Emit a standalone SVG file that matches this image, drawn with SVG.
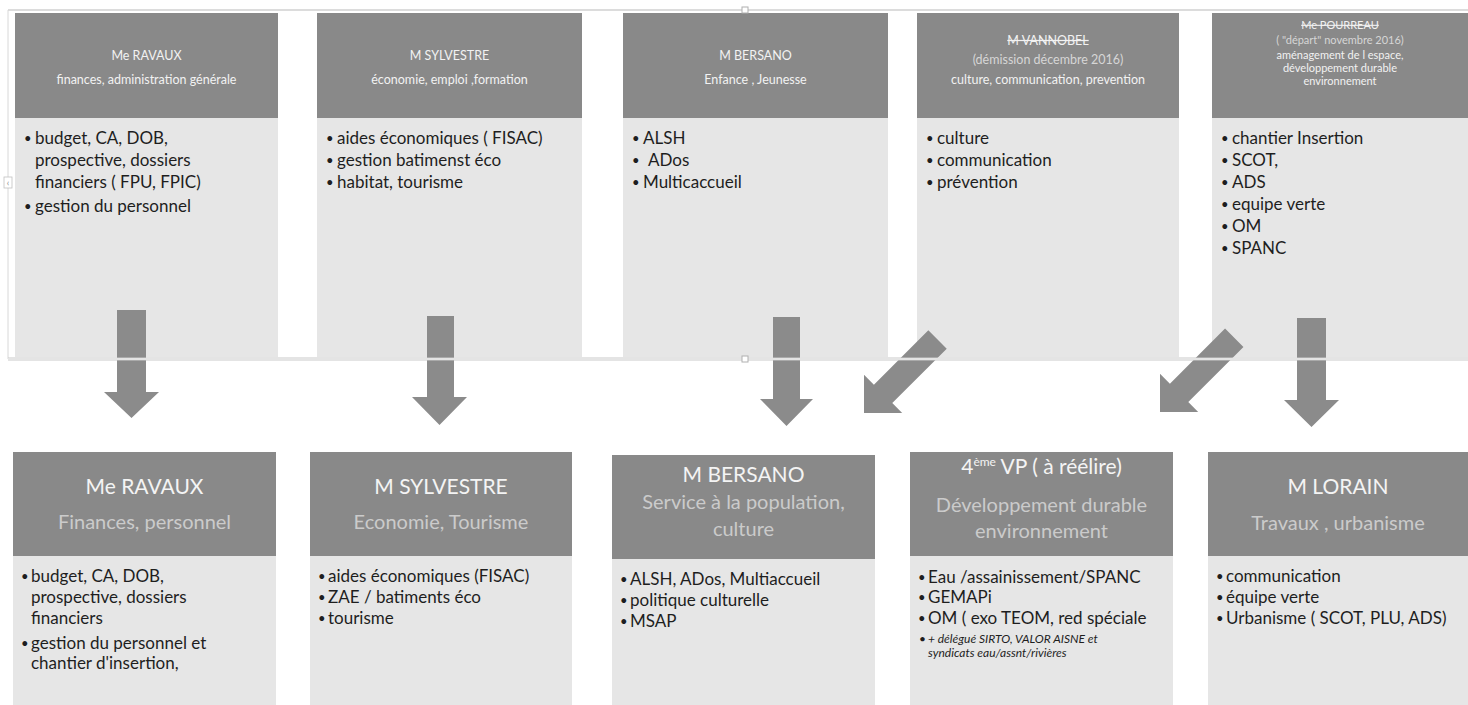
<svg xmlns="http://www.w3.org/2000/svg" width="1468" height="705" viewBox="0 0 1468 705">
<style>
.hd{fill:#898989}
.bd{fill:#e6e6e6}
.th{font-family:Lato,"Liberation Sans",sans-serif;font-size:12.5px;fill:#f2f2f2;text-anchor:middle}
.th5{font-family:Lato,"Liberation Sans",sans-serif;font-size:11px;fill:#f2f2f2;text-anchor:middle}
.st{text-decoration:line-through}
.dim{fill:#d6d6d6}
.tb{font-family:Lato,"Liberation Sans",sans-serif;font-size:17px;fill:#1e1e1e}
.bu{font-family:Lato,"Liberation Sans",sans-serif;font-size:13px;fill:#1e1e1e}
.bt{font-family:Lato,"Liberation Sans",sans-serif;font-size:21px;fill:#f4f4f4;text-anchor:middle}
.bs{font-family:Lato,"Liberation Sans",sans-serif;font-size:20px;fill:#cbcbcb;text-anchor:middle}
.it{font-family:Lato,"Liberation Sans",sans-serif;font-size:12px;font-style:italic;fill:#1e1e1e}
.ar{fill:#8b8b8b}
.fr{stroke:#c9c9c9;stroke-width:3;fill:none}
.frw{stroke:#ffffff;stroke-width:1.2;fill:none}
</style>

<!-- top row -->
<g id="t1">
<rect class="hd" x="15" y="13" width="263" height="105"/>
<rect class="bd" x="15" y="118" width="263" height="239"/>
<text class="th" x="146.5" y="59.5">Me RAVAUX</text>
<text class="th" x="146.5" y="83.5">finances, administration générale</text>
<text class="bu" x="24" y="143">•</text><text class="tb" x="35" y="144">budget, CA, DOB,</text>
<text class="tb" x="35" y="166">prospective, dossiers</text>
<text class="tb" x="35" y="188">financiers ( FPU, FPIC)</text>
<text class="bu" x="24" y="211">•</text><text class="tb" x="35" y="212">gestion du personnel</text>
</g>
<g id="t2">
<rect class="hd" x="317" y="13" width="265" height="105"/>
<rect class="bd" x="317" y="118" width="265" height="239"/>
<text class="th" x="449.5" y="59.5">M SYLVESTRE</text>
<text class="th" x="449.5" y="83.5">économie, emploi ,formation</text>
<text class="bu" x="326" y="143">•</text><text class="tb" x="337" y="144">aides économiques ( FISAC)</text>
<text class="bu" x="326" y="165">•</text><text class="tb" x="337" y="166">gestion batimenst éco</text>
<text class="bu" x="326" y="187">•</text><text class="tb" x="337" y="188">habitat, tourisme</text>
</g>
<g id="t3">
<rect class="hd" x="623" y="13" width="265" height="105"/>
<rect class="bd" x="623" y="118" width="265" height="239"/>
<text class="th" x="755.5" y="59.5">M BERSANO</text>
<text class="th" x="755.5" y="83.5">Enfance , Jeunesse</text>
<text class="bu" x="632" y="143">•</text><text class="tb" x="643" y="144">ALSH</text>
<text class="bu" x="632" y="165">•</text><text class="tb" x="648" y="166">ADos</text>
<text class="bu" x="632" y="187">•</text><text class="tb" x="643" y="188">Multicaccueil</text>
</g>
<g id="t4">
<rect class="hd" x="917" y="13" width="262" height="105"/>
<rect class="bd" x="917" y="118" width="262" height="239"/>
<text class="th st" x="1048" y="44.5">M VANNOBEL</text>
<text class="th dim" x="1048" y="63.5">(démission décembre 2016)</text>
<text class="th" x="1048" y="83.5">culture, communication, prevention</text>
<text class="bu" x="926" y="143">•</text><text class="tb" x="937" y="144">culture</text>
<text class="bu" x="926" y="165">•</text><text class="tb" x="937" y="166">communication</text>
<text class="bu" x="926" y="187">•</text><text class="tb" x="937" y="188">prévention</text>
</g>
<g id="t5">
<rect class="hd" x="1212" y="13" width="256" height="105"/>
<rect class="bd" x="1212" y="118" width="256" height="239"/>
<text class="th5 st" x="1340" y="29">Me POURREAU</text>
<text class="th5 dim" x="1340" y="44">( "départ" novembre 2016)</text>
<text class="th5" x="1340" y="59">aménagement de l espace,</text>
<text class="th5" x="1340" y="72">développement durable</text>
<text class="th5" x="1340" y="85">environnement</text>
<text class="bu" x="1221" y="143">•</text><text class="tb" x="1232" y="144">chantier Insertion</text>
<text class="bu" x="1221" y="165">•</text><text class="tb" x="1232" y="166">SCOT,</text>
<text class="bu" x="1221" y="187">•</text><text class="tb" x="1232" y="188">ADS</text>
<text class="bu" x="1221" y="209">•</text><text class="tb" x="1232" y="210">equipe verte</text>
<text class="bu" x="1221" y="231">•</text><text class="tb" x="1232" y="232">OM</text>
<text class="bu" x="1221" y="253">•</text><text class="tb" x="1232" y="254">SPANC</text>
</g>

<!-- connectors -->
<g id="connectors">
<polygon class="ar" points="117,310 146,310 146,392 159,392 131.5,418 104,392 117,392"/>
<polygon class="ar" points="427,316 454,316 454,397 467,397 439.5,425 412,397 427,397"/>
<polygon class="ar" points="773,317 800,317 800,399 813,399 786.5,426 760,399 773,399"/>
<polygon class="ar" points="1297,318 1326,318 1326,400 1339,400 1311.5,427 1284,400 1297,400"/>
<polygon class="ar" transform="translate(864,413) rotate(45)" points="-13,-104 13,-104 13,-27 27,-27 0,0 -27,-27 -13,-27"/>
<polygon class="ar" transform="translate(1160,412) rotate(45)" points="-13,-105 13,-105 13,-27 27,-27 0,0 -27,-27 -13,-27"/>
</g>

<!-- frame of the top region -->
<g id="frame">
<line x1="8" y1="10" x2="1468" y2="10" stroke="#d0d0d0" stroke-width="1.5"/>
<line x1="8" y1="10" x2="8" y2="359" stroke="#d8d8d8" stroke-width="1"/>
<line class="fr" x1="8" y1="359" x2="1468" y2="359"/>
<line class="frw" x1="8" y1="359" x2="1468" y2="359"/>
<rect x="742" y="7" width="6" height="6" fill="#ffffff" stroke="#b0b0b0" stroke-width="1"/>
<rect x="742" y="356" width="6" height="6" fill="#ffffff" stroke="#b0b0b0" stroke-width="1"/>
<rect x="4" y="177" width="8" height="11" fill="#ffffff" stroke="#c0c0c0" stroke-width="0.8"/>
<text x="8" y="186" font-family="Lato,'Liberation Sans',sans-serif" font-size="9" fill="#888" text-anchor="middle">‹</text>
</g>

<!-- bottom row -->
<g id="b1">
<rect class="hd" x="13" y="452" width="263" height="104"/>
<rect class="bd" x="13" y="556" width="263" height="149"/>
<text class="bt" x="144.5" y="494">Me RAVAUX</text>
<text class="bs" x="144.5" y="529">Finances, personnel</text>
<text class="bu" x="21" y="581">•</text><text class="tb" x="31" y="582">budget, CA, DOB,</text>
<text class="tb" x="31" y="603">prospective, dossiers</text>
<text class="tb" x="31" y="624">financiers</text>
<text class="bu" x="21" y="648">•</text><text class="tb" x="31" y="649">gestion du personnel et</text>
<text class="tb" x="31" y="669">chantier d'insertion,</text>
</g>
<g id="b2">
<rect class="hd" x="310" y="452" width="262" height="104"/>
<rect class="bd" x="310" y="556" width="262" height="149"/>
<text class="bt" x="441" y="494">M SYLVESTRE</text>
<text class="bs" x="441" y="529">Economie, Tourisme</text>
<text class="bu" x="318" y="581">•</text><text class="tb" x="328" y="582">aides économiques (FISAC)</text>
<text class="bu" x="318" y="602">•</text><text class="tb" x="328" y="603">ZAE / batiments éco</text>
<text class="bu" x="318" y="623">•</text><text class="tb" x="328" y="624">tourisme</text>
</g>
<g id="b3">
<rect class="hd" x="612" y="455" width="263" height="104"/>
<rect class="bd" x="612" y="559" width="263" height="146"/>
<text class="bt" x="743.5" y="482">M BERSANO</text>
<text class="bs" x="743.5" y="509">Service à la population,</text>
<text class="bs" x="743.5" y="536">culture</text>
<text class="bu" x="620" y="584">•</text><text class="tb" x="630" y="585">ALSH, ADos, Multiaccueil</text>
<text class="bu" x="620" y="605">•</text><text class="tb" x="630" y="606">politique culturelle</text>
<text class="bu" x="620" y="626">•</text><text class="tb" x="630" y="627">MSAP</text>
</g>
<g id="b4">
<rect class="hd" x="910" y="452" width="263" height="104"/>
<rect class="bd" x="910" y="556" width="263" height="149"/>
<text class="bt" x="1041.5" y="474">4<tspan font-size="12" dy="-8">ème</tspan><tspan dy="8"> VP ( à réélire)</tspan></text>
<text class="bs" x="1041.5" y="512">Développement durable</text>
<text class="bs" x="1041.5" y="538">environnement</text>
<text class="bu" x="918" y="582">•</text><text class="tb" x="928" y="583">Eau /assainissement/SPANC</text>
<text class="bu" x="918" y="602">•</text><text class="tb" x="928" y="603">GEMAPi</text>
<text class="bu" x="918" y="623">•</text><text class="tb" x="928" y="624">OM ( exo TEOM, red spéciale</text>
<text class="it" x="919" y="643">•</text><text class="it" x="928" y="643">+ délégué SIRTO, VALOR AISNE et</text>
<text class="it" x="928" y="657">syndicats eau/assnt/rivières</text>
</g>
<g id="b5">
<rect class="hd" x="1208" y="452" width="260" height="104"/>
<rect class="bd" x="1208" y="556" width="260" height="149"/>
<text class="bt" x="1338" y="494">M LORAIN</text>
<text class="bs" x="1338" y="530">Travaux , urbanisme</text>
<text class="bu" x="1216" y="581">•</text><text class="tb" x="1226" y="582">communication</text>
<text class="bu" x="1216" y="602">•</text><text class="tb" x="1226" y="603">équipe verte</text>
<text class="bu" x="1216" y="623">•</text><text class="tb" x="1226" y="624">Urbanisme ( SCOT, PLU, ADS)</text>
</g>
</svg>
